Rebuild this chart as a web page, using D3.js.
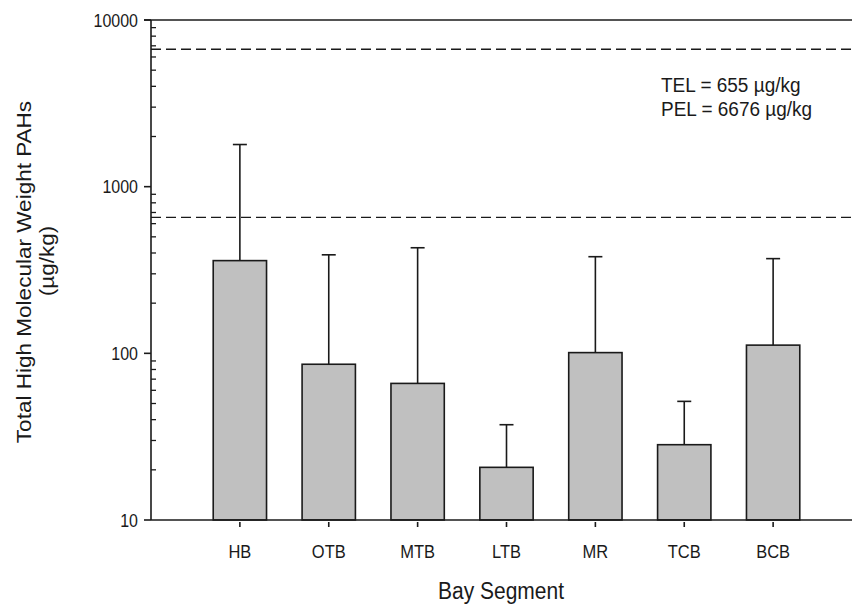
<!DOCTYPE html>
<html>
<head>
<meta charset="utf-8">
<script src="https://cdn.jsdelivr.net/npm/d3@7/dist/d3.min.js"></script>
<style>
  html, body { margin: 0; padding: 0; background: #fff; }
  svg { display: block; font-family: "Liberation Sans", Arial, sans-serif; }
</style>
</head>
<body>
<svg id="chart" width="852" height="604"></svg>
<script>
// Bay segments and their mean total HMW PAH concentrations (µg/kg)
const segments = ["HB", "OTB", "MTB", "LTB", "MR", "TCB", "BCB"];
const means = [360, 86, 66, 20.7, 101, 28.3, 112];
// Upper end of each error bar (mean + SD)
const upper = [1790, 390, 430, 37.3, 380, 51.5, 370];
// Sediment quality guidelines
const TEL = 655;
const PEL = 6676;
const yTickValues = [10, 100, 1000, 10000];

const svg = d3.select("#chart");
const plotLeft = 151, plotRight = 862, plotTop = 20, plotBottom = 520;
const ink = "#1a1a1a";

const x = d3.scaleLinear().domain([0, segments.length + 1]).range([plotLeft, plotRight]);
const y = d3.scaleLog().domain([10, 10000]).range([plotBottom, plotTop]);
const step = x(1) - x(0);
const barW = step * 0.6;

// Minor tick values for the log axis
const minor = [];
[10, 100, 1000].forEach(d => { for (let k = 2; k <= 9; k++) minor.push(d * k); });

// Tall, slightly condensed label text
function tallText(g, px, py, str, size, anchor, sy) {
  return g.append("text")
    .attr("transform", `translate(${px},${py}) scale(1,${sy})`)
    .attr("text-anchor", anchor).attr("font-size", size).attr("fill", ink)
    .text(str);
}

// Reference lines (TEL, PEL)
svg.selectAll("line.ref").data([TEL, PEL]).join("line")
  .attr("class", "ref")
  .attr("x1", plotLeft).attr("x2", 852)
  .attr("y1", d => y(d)).attr("y2", d => y(d))
  .attr("stroke", ink).attr("stroke-width", 1.3)
  .attr("stroke-dasharray", "10,5");

// Error bars (upward only)
const eb = svg.append("g");
segments.forEach((s, i) => {
  const cx = x(i + 1);
  eb.append("line").attr("x1", cx).attr("x2", cx)
    .attr("y1", y(means[i])).attr("y2", y(upper[i]))
    .attr("stroke", ink).attr("stroke-width", 1.6);
  eb.append("line").attr("x1", cx - 7).attr("x2", cx + 7)
    .attr("y1", y(upper[i])).attr("y2", y(upper[i]))
    .attr("stroke", ink).attr("stroke-width", 1.6);
});

// Bars
svg.append("g").selectAll("rect").data(segments).join("rect")
  .attr("x", (d, i) => x(i + 1) - barW / 2)
  .attr("width", barW)
  .attr("y", (d, i) => y(means[i]))
  .attr("height", (d, i) => y(10) - y(means[i]))
  .attr("fill", "#c0c0c0")
  .attr("stroke", ink).attr("stroke-width", 1.6);

// Top frame line
svg.append("line").attr("x1", plotLeft - 7).attr("x2", 852)
  .attr("y1", plotTop).attr("y2", plotTop)
  .attr("stroke", ink).attr("stroke-width", 1.6);

// Y axis: major ticks outward, minor ticks inward
const yAxis = svg.append("g");
yAxis.append("line").attr("x1", plotLeft).attr("x2", plotLeft).attr("y1", plotTop).attr("y2", plotBottom)
  .attr("stroke", ink).attr("stroke-width", 1.6);
yAxis.selectAll("line.maj").data(yTickValues).join("line").attr("class", "maj")
  .attr("x1", plotLeft - 7).attr("x2", plotLeft)
  .attr("y1", d => y(d)).attr("y2", d => y(d))
  .attr("stroke", ink).attr("stroke-width", 1.6);
yAxis.selectAll("line.min").data(minor).join("line").attr("class", "min")
  .attr("x1", plotLeft).attr("x2", plotLeft + 5)
  .attr("y1", d => y(d)).attr("y2", d => y(d))
  .attr("stroke", ink).attr("stroke-width", 1.3);
yTickValues.forEach(v => tallText(yAxis, plotLeft - 13, y(v) + 6.5, d3.format("d")(v), 16, "end", 1.12));

// X axis
const xAxis = svg.append("g");
xAxis.append("line").attr("x1", plotLeft).attr("x2", 852).attr("y1", plotBottom).attr("y2", plotBottom)
  .attr("stroke", ink).attr("stroke-width", 1.6);
xAxis.selectAll("line.t").data(segments).join("line").attr("class", "t")
  .attr("x1", (d, i) => x(i + 1)).attr("x2", (d, i) => x(i + 1))
  .attr("y1", plotBottom + 2).attr("y2", plotBottom + 7)
  .attr("stroke", ink).attr("stroke-width", 1.6);
segments.forEach((s, i) => tallText(xAxis, x(i + 1), 558, s, 16.5, "middle", 1.12));

// Axis titles
tallText(svg, 501, 599, "Bay Segment", 21, "middle", 1.1);
const yt = svg.append("text")
  .attr("transform", "translate(31,272) rotate(-90) scale(1.1,1)")
  .attr("text-anchor", "middle").attr("font-size", 20.5).attr("fill", ink);
yt.append("tspan").attr("x", 0).attr("dy", 0).text("Total High Molecular Weight PAHs");
yt.append("tspan").attr("x", 10).attr("dy", 23).text("(µg/kg)");

// Guideline legend
const lg = svg.append("g");
tallText(lg, 661, 92, `TEL = ${TEL} µg/kg`, 19, "start", 1.06);
tallText(lg, 661, 116, `PEL = ${PEL} µg/kg`, 19, "start", 1.06);
</script>
</body>
</html>
